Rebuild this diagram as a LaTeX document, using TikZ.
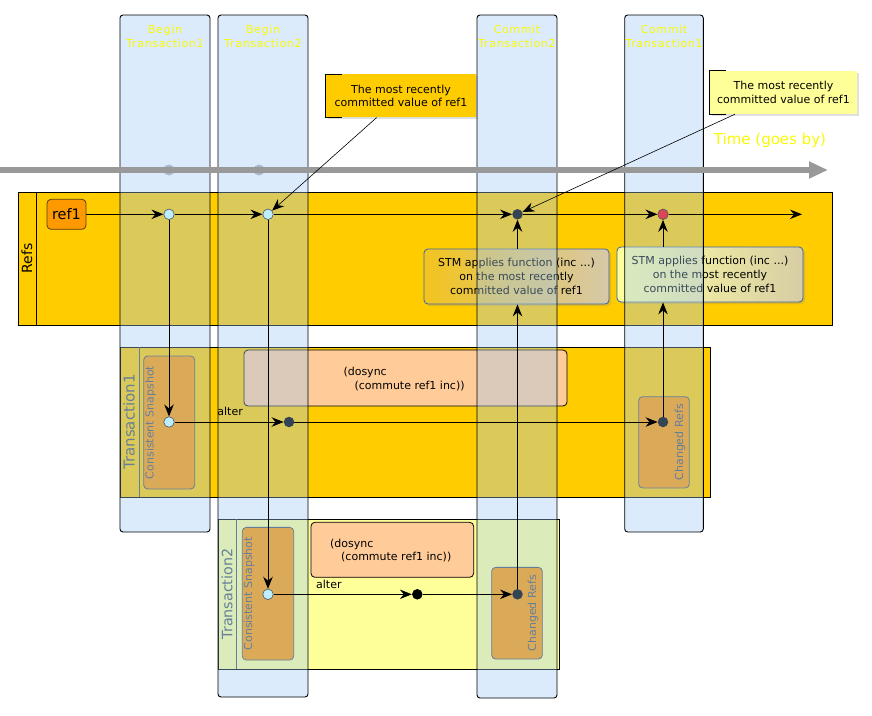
\documentclass[tikz,border=0pt]{standalone}
\usepackage{fontspec}
\setmainfont{DejaVu Sans}
\usepackage{tikz}
\usetikzlibrary{arrows.meta,shadows}

\definecolor{refgold}{RGB}{255,204,0}
\definecolor{refnode}{RGB}{255,153,0}
\definecolor{refedge}{RGB}{90,60,20}
\definecolor{lanefill}{RGB}{158,201,244}
\definecolor{laneyel}{RGB}{250,250,0}
\definecolor{paleyel}{RGB}{255,255,153}
\definecolor{codefill}{RGB}{255,204,153}
\definecolor{slate}{RGB}{68,85,102}
\definecolor{dotblue}{RGB}{190,238,255}
\definecolor{dotdark}{RGB}{51,68,85}
\definecolor{dotred}{RGB}{221,68,85}
\definecolor{timegray}{RGB}{153,153,153}
\definecolor{timedot}{RGB}{170,182,205}
\definecolor{stmedge}{RGB}{58,100,170}
\definecolor{stmaleft}{RGB}{242,196,30}
\definecolor{stmaright}{RGB}{214,200,170}
\definecolor{stmbleft}{RGB}{255,255,160}
\definecolor{stmbright}{RGB}{215,205,165}

\begin{document}
\begin{tikzpicture}[x=1pt,y=-1pt,
  every node/.style={font=\fontsize{11}{13.5}\selectfont},
  arr/.style={-{Stealth[length=12pt,width=9.5pt,inset=4pt]},line width=0.9pt},
  dot/.style={circle,inner sep=0pt,minimum size=10.5pt},
  lane/.style={draw=black,line width=0.9pt,rounded corners=3pt,fill=lanefill,fill opacity=0.37},
  lanelabel/.style={text=laneyel,align=center,font=\fontsize{11}{14}\selectfont\addfontfeatures{LetterSpace=6}},
  pool/.style={draw=black,line width=0.9pt},
  refbox/.style={draw=slate,line width=0.8pt,fill=refnode,rounded corners=4pt,inner sep=0pt},
  codebox/.style={draw=black,line width=0.8pt,fill=codefill,rounded corners=4pt,inner sep=0pt},
  stmbox/.style={draw=stmedge,line width=0.8pt,rounded corners=4pt,align=center,inner sep=0pt,
    font=\fontsize{11}{14}\selectfont,drop shadow={opacity=0.25,shadow xshift=2pt,shadow yshift=-2pt}},
  notebox/.style={align=center,inner sep=0pt,drop shadow={opacity=0.25,shadow xshift=2pt,shadow yshift=-2pt}},
  vtext/.style={rotate=90,text=slate}]

\useasboundingbox (0,0) rectangle (872,715);

% notes
\node[notebox,fill=refgold,minimum width=150pt,minimum height=43pt] (note1) at (401,95.8) {The most recently\\committed value of ref1};
\draw[line width=0.8pt] ([xshift=15.7pt]note1.north west) -- (note1.north west) -- (note1.south west) -- ([xshift=15.7pt]note1.south west);
\node[notebox,fill=paleyel,minimum width=147pt,minimum height=43pt] (note2) at (783.5,92.5) {The most recently\\committed value of ref1};
\draw[line width=0.8pt] ([xshift=15.7pt]note2.north west) -- (note2.north west) -- (note2.south west) -- ([xshift=15.7pt]note2.south west);

% pools
\draw[pool,fill=refgold] (18,192) rectangle (832,325);
\draw[pool] (36,192) -- (36,325);
\node[rotate=90,font=\fontsize{14}{16}\selectfont] at (27,258.5) {Refs};

\draw[pool,fill=refgold] (120,347) rectangle (710,497);
\draw[slate,line width=0.8pt] (139,347) -- (139,497);
\node[vtext,font=\fontsize{15}{17}\selectfont] at (129,422) {Transaction1};

\draw[pool,fill=paleyel] (218,519) rectangle (559,669);
\draw[slate,line width=0.8pt] (236,519) -- (236,669);
\node[vtext,font=\fontsize{14.3}{16}\selectfont] at (227,594) {Transaction2};

% boxes
\node[refbox,draw=refedge,minimum width=39pt,minimum height=30pt,font=\fontsize{14.5}{16}\selectfont] (ref1) at (66.5,214.3) {ref1};

\node[refbox,minimum width=51pt,minimum height=133pt] (tx1snapbox) at (169.2,422.5) {};
\node[vtext] at (150.5,422.5) {Consistent Snapshot};
\node[refbox,minimum width=50.6pt,minimum height=91.3pt] (tx1chgbox) at (664,442.3) {};
\node[vtext] at (680,442.3) {Changed Refs};
\node[codebox,minimum width=323pt,minimum height=56pt] (tx1code) at (405.5,378) {};
\node[anchor=west,align=left,inner sep=0pt] at (343.3,379) {(dosync\\\hspace*{11pt}(commute ref1 inc))};

\node[refbox,minimum width=51.4pt,minimum height=132.7pt] (tx2snapbox) at (268,593.7) {};
\node[vtext] at (249,593.7) {Consistent Snapshot};
\node[refbox,minimum width=50.6pt,minimum height=91.7pt] (tx2chgbox) at (517,613.2) {};
\node[vtext] at (533,613.2) {Changed Refs};
\node[codebox,minimum width=162.7pt,minimum height=55pt] (tx2code) at (392.3,549.8) {};
\node[anchor=west,align=left,inner sep=0pt] at (330,550.5) {(dosync\\\hspace*{11pt}(commute ref1 inc))};

\node[stmbox,left color=stmaleft,right color=stmaright,minimum width=185pt,minimum height=55pt] (stmtx2) at (516.5,276.5) {STM applies function (inc ...)\\on the most recently\\committed value of ref1};
\node[stmbox,left color=stmbleft,right color=stmbright,minimum width=186pt,minimum height=55pt] (stmtx1) at (710,274.5) {STM applies function (inc ...)\\on the most recently\\committed value of ref1};

% lanes
\draw[lane] (120,15) rectangle (210,532);
\draw[lane] (218,15) rectangle (308,697);
\draw[lane] (477,15) rectangle (557,698);
\draw[lane] (624.7,15) rectangle (703.3,532);
\node[lanelabel] at (165,36) {Begin\\Transaction1};
\node[lanelabel] at (263,36) {Begin\\Transaction2};
\node[lanelabel] at (517,36) {Commit\\Transaction2};
\node[lanelabel] at (664,36) {Commit\\Transaction1};

% time
\fill[timedot] (169,170) circle (5.5);
\fill[timedot] (259,170) circle (5.5);
\draw[timegray,line width=6pt,-{Triangle[length=19pt,width=16pt]}] (0,170) -- (828,170);
\node[text=laneyel,font=\fontsize{15}{17}\selectfont] at (770,140) {Time (goes by)};

% points
\node[dot,fill=dotblue,draw=slate,line width=0.6pt] (read1) at (169,214.3) {};
\node[dot,fill=dotblue,draw=slate,line width=0.6pt] (read2) at (268,214.3) {};
\node[dot,fill=dotdark] (write2) at (517.5,214.3) {};
\node[dot,fill=dotred,draw=slate,line width=0.6pt] (write1) at (663,214.3) {};
\coordinate (refend) at (802,214.3);

\node[dot,fill=dotblue,draw=slate,line width=0.6pt] (tx1snap) at (169,422) {};
\node[dot,fill=dotdark] (tx1alter) at (289,422) {};
\node[dot,fill=dotdark] (tx1chg) at (663,422) {};
\node[dot,fill=dotblue,draw=slate,line width=0.6pt] (tx2snap) at (268,594.3) {};
\node[dot,fill=black] (tx2alter) at (417.3,594.3) {};
\node[dot,fill=dotdark] (tx2chg) at (517.5,594.3) {};

% arrows
\draw[arr] (ref1) -- (read1);
\draw[arr] (read1) -- (read2);
\draw[arr] (read2) -- (write2);
\draw[arr] (write2) -- (write1);
\draw[arr] (write1) -- (refend);
\draw[arr] (read1) -- (tx1snap);
\draw[arr] (read2) -- (tx2snap);
\draw[arr] (tx1snap) -- node[pos=0.51,above=2.7pt] {alter} (tx1alter);
\draw[arr] (tx1alter) -- (tx1chg);
\draw[arr] (tx1chg) -- (tx1chg |- stmtx1.south);
\draw[arr] (tx1chg |- stmtx1.north) -- (write1);
\draw[arr] (tx2snap) -- node[pos=0.4,above=2pt] {alter} (tx2alter);
\draw[arr] (tx2alter) -- (tx2chg);
\draw[arr] (tx2chg) -- (tx2chg |- stmtx2.south);
\draw[arr] (tx2chg |- stmtx2.north) -- (write2);
\draw[arr,line width=0.6pt] ([xshift=-24.3pt]note1.south) -- (read2);
\draw[arr,line width=0.6pt] ([xshift=-48.5pt]note2.south) -- (write2);

\end{tikzpicture}
\end{document}
